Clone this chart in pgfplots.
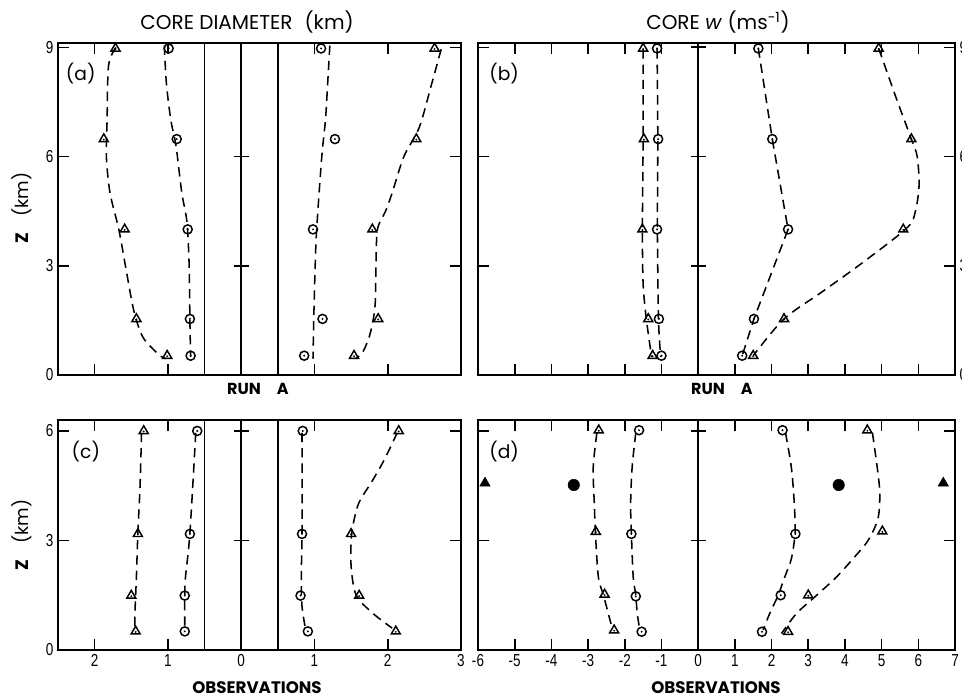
\documentclass[border=0pt]{standalone}
\usepackage{pgfplots}
\pgfplotsset{compat=1.18}
\usepackage{fontspec}
\setmainfont{Poppins}
\newfontfamily\tickfont[FakeStretch=0.78]{Liberation Sans}

\pgfdeclareplotmark{cdot}{%
  \pgfpathcircle{\pgfpointorigin}{\pgfplotmarksize}\pgfusepathqstroke
  \pgfpathcircle{\pgfpointorigin}{0.24\pgfplotmarksize}\pgfusepathqfill}
\pgfdeclareplotmark{tdot}{%
  \pgfpathmoveto{\pgfqpoint{0pt}{\pgfplotmarksize}}%
  \pgfpathlineto{\pgfqpointpolar{-150}{\pgfplotmarksize}}%
  \pgfpathlineto{\pgfqpointpolar{-30}{\pgfplotmarksize}}%
  \pgfpathclose\pgfusepathqstroke
  \pgfpathcircle{\pgfqpoint{0pt}{-0.1\pgfplotmarksize}}{0.2\pgfplotmarksize}\pgfusepathqfill}

\tikzset{cln/.style={black, line width=1.3pt}}
\pgfplotsset{
  panel/.style={scale only axis, anchor=south west, enlargelimits=false,
    axis line style={line width=1.8pt},
    tick style={line width=1.2pt, black},
    tick align=inside, major tick length=8pt,
    xticklabel pos=lower,
    ticklabel style={font=\tickfont\fontsize{13}{14}\selectfont},
  },
  curve/.style={black, line width=1.15pt, dash pattern=on 7pt off 4.5pt, smooth, no markers},
  pline/.style={black, line width=1.15pt, dash pattern=on 7pt off 4.5pt, sharp plot, no markers},
  cmark/.style={black, only marks, mark=cdot, mark size=3.4pt, mark options={line width=1.1pt, solid}},
  tmark/.style={black, only marks, mark=tdot, mark size=3.9pt, mark options={line width=1.1pt, solid}},
}

\begin{document}
\begin{tikzpicture}
\useasboundingbox (0,0) rectangle (721.5pt,521.25pt);

% ---------- (a) ----------
\begin{axis}[panel, at={(43.5pt,240pt)}, width=302.25pt, height=249pt,
  xmin=-2.5, xmax=3, ymin=0, ymax=9.12,
  xtick={-2,-1,0,1,2}, xticklabels={},
  ytick={0,3,6,9}, yticklabels={0,3,6,9}]
\draw[cln] (-0.5,0) -- (-0.5,9.12);
\draw[cln] (0,0) -- (0,9.12);
\draw[cln] (0.5,0) -- (0.5,9.12);
\draw[cln] (-0.1,3) -- (0.1,3);
\draw[cln] (-0.1,6) -- (0.1,6);
\node[font=\fontsize{14}{15}\selectfont] at (-2.19,8.28) {(a)};
% left triangles
\addplot[curve] coordinates {(-1.71,9.0) (-1.81,8.5) (-1.83,7.0) (-1.84,6.0) (-1.79,5.0) (-1.67,4.0) (-1.58,3.0) (-1.49,2.0) (-1.43,1.5) (-1.33,1.0) (-1.12,0.55) (-1.03,0.45)};
\addplot[tmark] coordinates {(-1.715,8.97) (-1.875,6.48) (-1.59,4.0) (-1.43,1.54) (-1.01,0.53)};
% left circles
\addplot[curve] coordinates {(-1.05,9.05) (-1.02,8.0) (-0.96,7.0) (-0.89,6.3) (-0.81,5.0) (-0.74,4.2) (-0.71,3.0) (-0.70,1.5) (-0.69,0.5)};
\addplot[cmark] coordinates {(-0.99,8.97) (-0.88,6.48) (-0.73,4.0) (-0.70,1.54) (-0.69,0.53)};
% right circles
\addplot[curve] coordinates {(1.21,9.05) (1.18,8.0) (1.15,7.0) (1.10,6.0) (1.03,4.0) (1.01,3.0) (0.99,1.5) (0.98,0.45)};
\addplot[cmark] coordinates {(1.09,8.97) (1.28,6.48) (0.98,4.0) (1.11,1.54) (0.86,0.53)};
% right triangles
\addplot[curve] coordinates {(2.73,8.95) (2.60,8.0) (2.43,6.8) (2.22,6.0) (2.06,5.0) (1.97,4.5) (1.86,4.0) (1.84,3.0) (1.83,2.0) (1.80,1.5) (1.74,1.0) (1.65,0.6) (1.56,0.45)};
\addplot[tmark] coordinates {(2.64,8.97) (2.39,6.48) (1.79,4.0) (1.87,1.54) (1.54,0.53)};
\end{axis}

% ---------- (b) ----------
\begin{axis}[panel, at={(358.5pt,240pt)}, width=357.75pt, height=249pt,
  xmin=-6, xmax=7, ymin=0, ymax=9.12,
  xtick={-5,-4,-3,-2,-1,0,1,2,3,4,5,6}, xticklabels={},
  ytick={0,3,6,9}, yticklabels={0,3,6,9}, yticklabel pos=right]
\draw[cln] (0,0) -- (0,9.12);
\draw[cln] (-0.2,3) -- (0.2,3);
\draw[cln] (-0.2,6) -- (0.2,6);
\draw[cln] (-0.2,9) -- (0.2,9);
\node[font=\fontsize{14}{15}\selectfont] at (-5.29,8.28) {(b)};
\addplot[curve] coordinates {(-1.50,8.95) (-1.50,6.5) (-1.52,4.0) (-1.50,2.5) (-1.42,1.6) (-1.34,1.0) (-1.27,0.5)};
\addplot[tmark] coordinates {(-1.50,8.97) (-1.48,6.48) (-1.52,4.0) (-1.36,1.54) (-1.24,0.53)};
\addplot[curve] coordinates {(-1.12,8.95) (-1.10,6.5) (-1.11,4.0) (-1.08,1.5) (-1.02,0.5)};
\addplot[cmark] coordinates {(-1.12,8.97) (-1.09,6.48) (-1.12,4.0) (-1.07,1.54) (-1.00,0.53)};
\addplot[pline] coordinates {(1.64,8.97) (2.02,6.48) (2.45,4.0) (1.52,1.54) (1.20,0.53)};
\addplot[cmark] coordinates {(1.64,8.97) (2.02,6.48) (2.45,4.0) (1.52,1.54) (1.20,0.53)};
\addplot[curve] coordinates {(4.92,8.97) (5.40,7.6) (5.81,6.48) (5.97,6.0) (6.02,5.2) (5.92,4.5) (5.70,4.05) (4.5,3.1) (3.4,2.3) (2.34,1.54) (1.50,0.53)};
\addplot[tmark] coordinates {(4.92,8.97) (5.81,6.48) (5.59,4.0) (2.34,1.54) (1.50,0.53)};
\end{axis}

% ---------- (c) ----------
\begin{axis}[panel, at={(43.5pt,33.75pt)}, width=302.25pt, height=172.5pt,
  xmin=-2.5, xmax=3, ymin=0, ymax=6.3,
  xtick={-2,-1,0,1,2,3}, xticklabels={2,1,0,1,2,3},
  ytick={0,3,6}, yticklabels={0,3,6}]
\draw[cln] (-0.5,0) -- (-0.5,6.3);
\draw[cln] (0,0) -- (0,6.3);
\draw[cln] (0.5,0) -- (0.5,6.3);
\draw[cln] (-0.1,3) -- (0.1,3);
\draw[cln] (-0.1,6) -- (0.1,6);
\node[font=\fontsize{14}{15}\selectfont] at (-2.12,5.44) {(c)};
\addplot[curve] coordinates {(-1.36,5.95) (-1.38,4.5) (-1.41,3.2) (-1.43,2.0) (-1.45,1.0) (-1.45,0.6)};
\addplot[tmark] coordinates {(-1.33,6.0) (-1.41,3.18) (-1.50,1.49) (-1.44,0.51)};
\addplot[curve] coordinates {(-0.62,5.95) (-0.70,3.2) (-0.76,2.0) (-0.77,1.5) (-0.77,0.6)};
\addplot[cmark] coordinates {(-0.60,6.0) (-0.70,3.18) (-0.77,1.49) (-0.77,0.51)};
\addplot[curve] coordinates {(0.83,5.95) (0.83,3.2) (0.82,2.0) (0.83,1.2) (0.88,0.55)};
\addplot[cmark] coordinates {(0.84,6.0) (0.83,3.18) (0.81,1.49) (0.91,0.51)};
\addplot[curve] coordinates {(2.13,5.95) (1.95,5.2) (1.78,4.6) (1.60,4.0) (1.51,3.2) (1.50,2.3) (1.57,1.5) (1.80,1.0) (2.06,0.6)};
\addplot[tmark] coordinates {(2.15,6.0) (1.50,3.18) (1.61,1.49) (2.11,0.51)};
\end{axis}

% ---------- (d) ----------
\begin{axis}[panel, at={(358.5pt,33.75pt)}, width=357.75pt, height=172.5pt,
  xmin=-6, xmax=7, ymin=0, ymax=6.3,
  xtick={-6,-5,-4,-3,-2,-1,0,1,2,3,4,5,6,7},
  xticklabels={-6,-5,-4,-3,-2,-1,0,1,2,3,4,5,6,7},
  ytick={0,3,6}, yticklabels={}]
\draw[cln] (0,0) -- (0,6.3);
\draw[cln] (-0.2,3) -- (0.2,3);
\draw[cln] (-0.2,6) -- (0.2,6);
\node[font=\fontsize{14}{15}\selectfont] at (-5.29,5.44) {(d)};
\addplot[curve] coordinates {(-2.76,5.95) (-2.86,5.0) (-2.83,4.0) (-2.80,3.2) (-2.72,2.0) (-2.58,1.5) (-2.45,1.0) (-2.33,0.55)};
\addplot[tmark] coordinates {(-2.71,6.02) (-2.79,3.24) (-2.55,1.52) (-2.29,0.54)};
\addplot[curve] coordinates {(-1.70,5.95) (-1.80,5.0) (-1.84,4.0) (-1.82,3.2) (-1.77,2.0) (-1.70,1.5) (-1.66,1.0) (-1.59,0.55)};
\addplot[cmark] coordinates {(-1.61,6.02) (-1.82,3.18) (-1.70,1.47) (-1.54,0.50)};
\addplot[curve] coordinates {(2.38,5.95) (2.54,5.0) (2.62,4.0) (2.64,3.2) (2.54,2.5) (2.36,2.0) (2.18,1.5) (1.95,1.0) (1.77,0.55)};
\addplot[cmark] coordinates {(2.30,6.02) (2.65,3.18) (2.25,1.50) (1.74,0.50)};
\addplot[curve] coordinates {(4.75,5.95) (4.88,5.0) (4.95,4.3) (4.90,3.6) (4.63,3.0) (4.22,2.5) (3.77,2.0) (3.23,1.5) (2.68,1.0) (2.27,0.45)};
\addplot[tmark] coordinates {(4.61,6.02) (5.02,3.25) (3.00,1.50) (2.45,0.50)};
\addplot[black, only marks, mark=triangle*, mark size=4.5pt] coordinates {(-5.81,4.57) (6.68,4.57)};
\addplot[black, only marks, mark=*, mark size=4.3pt] coordinates {(-3.39,4.52) (3.83,4.52)};
\end{axis}

% ---------- labels ----------
\node[font=\fontsize{15}{16}\selectfont] at (185.3pt,505pt) {CORE DIAMETER\hspace{0.6em}(km)};
\node[font=\fontsize{15}{16}\selectfont] at (538.5pt,505pt) {CORE \textit{w} (ms\textsuperscript{-1})};
\node[font=\bfseries\fontsize{12}{13}\selectfont] at (193.5pt,229.5pt) {RUN\hspace{1em}A};
\node[font=\bfseries\fontsize{12}{13}\selectfont] at (541.5pt,229.5pt) {RUN\hspace{1em}A};
\node[font=\bfseries\fontsize{12.5}{13}\selectfont] at (192.75pt,5.5pt) {OBSERVATIONS};
\node[font=\bfseries\fontsize{12.5}{13}\selectfont] at (537pt,5.5pt) {OBSERVATIONS};
\node[rotate=90, font=\fontsize{13.5}{14}\selectfont] at (16.5pt,365.25pt) {\textbf{Z}\hspace{0.9em}(km)};
\node[rotate=90, font=\fontsize{13.5}{14}\selectfont] at (16.5pt,120pt) {\textbf{Z}\hspace{0.9em}(km)};
\end{tikzpicture}
\end{document}
